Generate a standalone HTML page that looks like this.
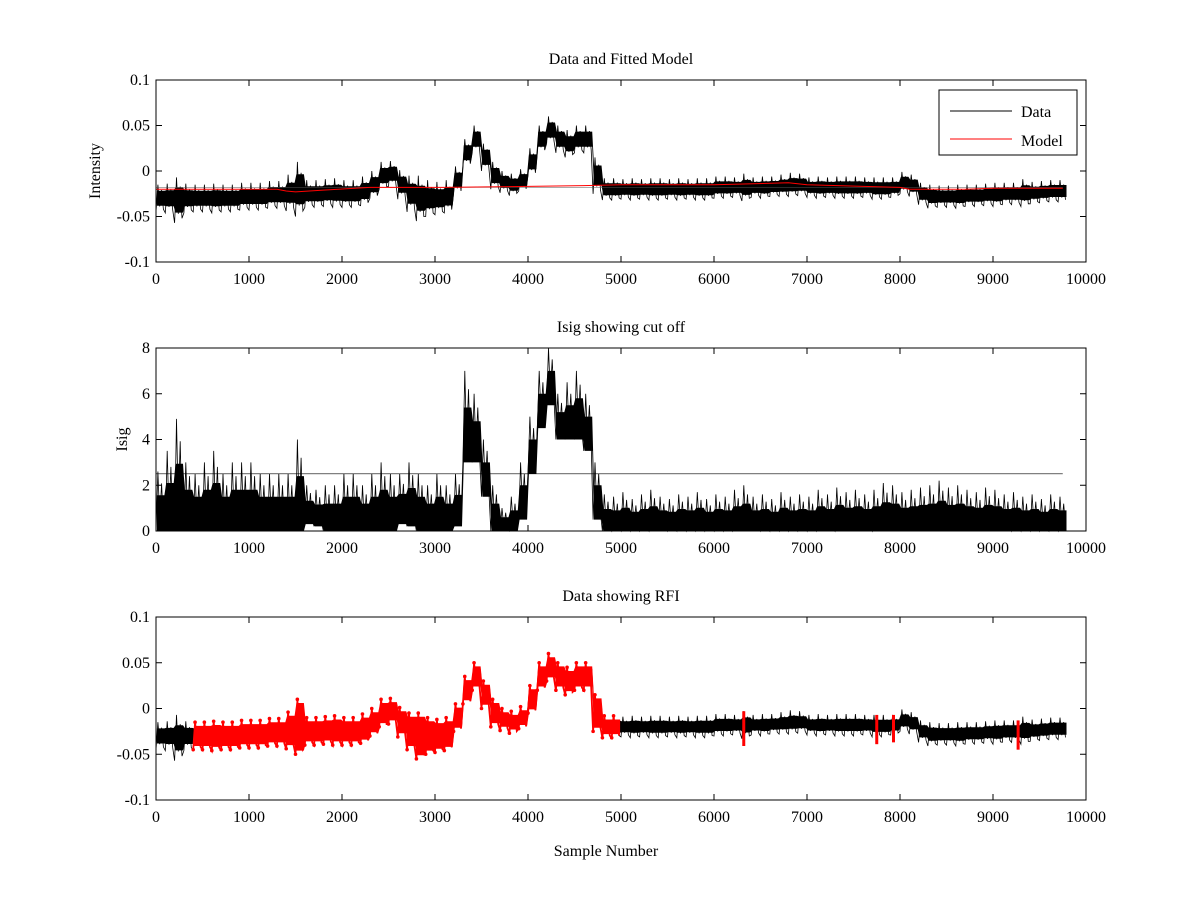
<!DOCTYPE html>
<html><head><meta charset="utf-8">
<style>
html,body{margin:0;padding:0;background:#fff;}
svg{display:block;font-family:"Liberation Serif",serif;}
text{font-size:16px;fill:#000;}
</style></head>
<body>
<svg id="chart" width="1200" height="900" viewBox="0 0 1200 900" xmlns="http://www.w3.org/2000/svg">
<rect width="1200" height="900" fill="#fff"/>
</svg>
<script>
// ---- data (bins of 100 samples, intensity in units of 0.01) ----
const binStart = 0, binSize = 100;
const dataCenter = [-3,-3,-3.2,-3,-3,-3,-3,-3,-3,-2.8,-2.8,-2.8,-2.6,-2.6,-2.4,-2,-2.5,-2.5,-2.4,-2.4,-2.5,-2.5,-2.2,-1.5,-0.5,-0.3,-1.5,-2.5,-3,-3,-3,-2.8,-1,2,3.5,1.5,-0.5,-1.2,-1.5,-1,1,3.5,4.5,3.5,3,3.5,3.5,-0.5,-2,-2,-2,-2,-2,-2,-2,-2,-2,-2,-2,-2,-1.8,-1.8,-1.8,-1.8,-1.8,-1.8,-1.7,-1.6,-1.5,-1.5,-1.8,-1.8,-1.8,-1.8,-1.8,-1.8,-1.8,-1.9,-1.9,-1.8,-1.3,-1.6,-2.5,-2.8,-2.8,-2.8,-2.8,-2.7,-2.7,-2.6,-2.6,-2.5,-2.5,-2.4,-2.4,-2.3,-2.2,-2.2];
const dataSpread = [1.5,1.6,2.5,1.6,1.5,1.5,1.6,1.5,1.5,1.5,1.5,1.5,1.5,1.5,2,3,1.5,1.5,1.5,1.6,1.5,1.5,1.6,1.5,1.5,1.4,1.6,2,2.5,2,1.8,1.8,1.5,1.5,1.5,1.5,1.5,1.2,1.2,1.2,1.5,1.5,1.5,1.5,1.5,1.5,1.5,2,1.2,1.2,1.1,1.2,1.1,1.2,1.2,1.1,1.2,1.1,1.2,1.2,1.2,1.2,1.1,1.5,1.1,1.2,1.1,1.2,1.3,1.2,1.1,1.2,1.1,1.2,1.2,1.2,1.1,1.2,1.2,1.1,1.2,1.2,1.2,1.3,1.2,1.2,1.3,1.2,1.2,1.2,1.3,1.2,1.2,1.5,1.2,1.2,1.2,1.2];
const modelX = [0,1300,1400,1500,1800,2300,3100,3900,4600,5000,6000,6800,7000,8000,8100,8700,9000,9750];
const modelY = [-2,-2,-2.2,-2.3,-2.1,-1.8,-1.8,-1.7,-1.6,-1.5,-1.5,-1.3,-1.5,-1.8,-2,-2,-1.9,-1.9];
const isigHigh = [2.6,3.5,4.9,3,2.5,3,3.5,2.5,3,3,3,2.5,2.5,2.5,2.5,4,2,1.8,2,2,2.5,2.5,2,2.5,3,2.5,2.5,3,2.5,2,2.5,2,2.5,7,6,4,2,1,1.5,3,5,7,8,6,6.5,7,6,3,1.6,1.5,1.7,1.4,1.6,1.8,1.5,1.4,1.6,1.5,1.7,1.4,1.6,1.5,1.8,2,1.5,1.6,1.4,1.7,1.5,1.6,1.5,1.8,1.6,1.9,1.7,1.8,1.6,1.8,2.1,2,1.7,1.8,1.9,2,2.2,1.9,2,1.8,1.7,1.9,1.8,1.6,1.7,1.5,1.6,1.4,1.6,1.5];
const isigLow = [0,0,0,0,0,0,0,0,0,0,0,0,0,0,0,0,0.3,0.2,0,0,0,0,0,0,0,0,0.3,0.2,0,0,0,0,0.2,3,3,1.5,0,0,0,0.5,2.5,4.5,5.5,4,4,4,3.5,0.5,0,0,0,0,0,0,0,0,0,0,0,0,0,0,0,0,0,0,0,0,0,0,0,0,0,0,0,0,0,0,0,0,0,0,0,0,0,0,0,0,0,0,0,0,0,0,0,0,0,0];
const threshold = 2.5;
const rfiRange = [450, 4950];
const rfiSpikes = [6320, 7750, 7930, 9270];
const xTicks = [0,1000,2000,3000,4000,5000,6000,7000,8000,9000,10000];
const yTicksI = [-0.1,-0.05,0,0.05,0.1];
const yTickLabelsI = ["-0.1","-0.05","0","0.05","0.1"];
const yTicksS = [0,2,4,6,8];

// ---- layout ----
const svg = document.getElementById('chart');
const NS = 'http://www.w3.org/2000/svg';
const L = 156, R = 1086;
const panels = [{top:80,bot:262,min:-0.1,max:0.1},{top:348,bot:531,min:0,max:8},{top:617,bot:800,min:-0.1,max:0.1}];
function xs(v){return L + v/10000*(R-L);}
function ys(p,v){return p.bot - (v-p.min)/(p.max-p.min)*(p.bot-p.top);}
function mk(tag, attrs, parent){const e=document.createElementNS(NS,tag);for(const k in attrs)e.setAttribute(k,attrs[k]);(parent||svg).appendChild(e);return e;}

function zigzag(p, lowF, highF, i0, i1){
  let pts=[];
  for(let i=i0;i<i1;i++){
    const x0=binStart+i*binSize;
    const l=lowF(i), h=highF(i);
    pts.push(xs(x0).toFixed(1)+','+ys(p,l).toFixed(1));
    pts.push(xs(x0+binSize*0.2).toFixed(1)+','+ys(p,h).toFixed(1));
    pts.push(xs(x0+binSize*0.4).toFixed(1)+','+ys(p,l+(h-l)*0.2).toFixed(1));
    pts.push(xs(x0+binSize*0.6).toFixed(1)+','+ys(p,l+(h-l)*0.8).toFixed(1));
    pts.push(xs(x0+binSize*0.8).toFixed(1)+','+ys(p,l+(h-l)*0.1).toFixed(1));
  }
  return pts.join(' ');
}
function band(p, lowF, highF, i0, i1){
  let up=[], dn=[];
  for(let i=i0;i<i1;i++){
    const xa=xs(i*binSize+binSize*0.1), xb=xs(i*binSize+binSize*0.9);
    up.push(xa.toFixed(1)+','+ys(p,highF(i)).toFixed(1), xb.toFixed(1)+','+ys(p,highF(i)).toFixed(1));
    dn.unshift(xb.toFixed(1)+','+ys(p,lowF(i)).toFixed(1), xa.toFixed(1)+','+ys(p,lowF(i)).toFixed(1));
  }
  return up.concat(dn).join(' ');
}
const N = dataCenter.length;
const lo = i => (dataCenter[i]-dataSpread[i])/100;
const hi = i => (dataCenter[i]+dataSpread[i])/100;
const loIn = i => (dataCenter[i]-dataSpread[i]*0.55)/100;
const hiIn = i => (dataCenter[i]+dataSpread[i]*0.55)/100;

function axes(p, idx, yt, ytl, title, ylabel){
  const g = mk('g',{});
  
  
  mk('rect',{x:L,y:p.top,width:R-L,height:p.bot-p.top,fill:'none',stroke:'#000','stroke-width':1},g);
  xTicks.forEach(t=>{
    const x=xs(t);
    mk('line',{x1:x,x2:x,y1:p.bot,y2:p.bot-6,stroke:'#000'},g);
    mk('line',{x1:x,x2:x,y1:p.top,y2:p.top+6,stroke:'#000'},g);
    const tx=mk('text',{x:x,y:p.bot+22,'text-anchor':'middle'},g);
    
    
    tx.textContent=t;
  });
  yt.forEach((t,k)=>{
    const y=ys(p,t);
    mk('line',{x1:L,x2:L+6,y1:y,y2:y,stroke:'#000'},g);
    mk('line',{x1:R,x2:R-6,y1:y,y2:y,stroke:'#000'},g);
    const tx=mk('text',{x:L-6,y:y+5,'text-anchor':'end'},g);
    
    
    tx.textContent=ytl[k];
  });
  const tt=mk('text',{x:(L+R)/2,y:p.top-16,'text-anchor':'middle'},g);
  
  
  tt.textContent=title;
  if(ylabel){
    const yl=mk('text',{x:0,y:0,'text-anchor':'middle',transform:'translate('+(idx==0?100:127)+','+((p.top+p.bot)/2)+') rotate(-90)'},g);
    
    
    yl.textContent=ylabel;
  }
}

// Panel 1
const p1=panels[0];
const b1=mk('polygon',{points:band(p1,loIn,hiIn,0,N),fill:'#000'});


const d1=mk('polyline',{points:zigzag(p1,lo,hi,0,N),fill:'none',stroke:'#000','stroke-width':0.8});


mk('line',{x1:xs(0),x2:xs(9750),y1:ys(p1,-0.018),y2:ys(p1,-0.018),stroke:'#555','stroke-width':0.6});
const m1=mk('polyline',{points:modelX.map((v,i)=>xs(v).toFixed(1)+','+ys(p1,modelY[i]/100).toFixed(1)).join(' '),fill:'none',stroke:'#f00','stroke-width':1});


axes(p1,0,yTicksI,yTickLabelsI,'Data and Fitted Model','Intensity');
const lg=mk('g',{});


mk('rect',{x:939,y:90,width:138,height:65,fill:'#fff',stroke:'#000'},lg);
mk('line',{x1:950,x2:1012,y1:111,y2:111,stroke:'#000'},lg);
const lt1=mk('text',{x:1021,y:117},lg);lt1.textContent='Data';


mk('line',{x1:950,x2:1012,y1:139,y2:139,stroke:'#f00'},lg);
const lt2=mk('text',{x:1021,y:146},lg);lt2.textContent='Model';



// Panel 2
const p2=panels[1];
const b2=mk('polygon',{points:band(p2,i=>isigLow[i],i=>isigLow[i]+(isigHigh[i]-isigLow[i])*0.6,0,N),fill:'#000'});


const d2=mk('polyline',{points:zigzag(p2,i=>isigLow[i],i=>isigHigh[i],0,N),fill:'none',stroke:'#000','stroke-width':0.8});


const th=mk('line',{x1:xs(0),x2:xs(9750),y1:ys(p2,threshold),y2:ys(p2,threshold),stroke:'#000','stroke-width':0.6});


axes(p2,1,yTicksS,yTicksS.map(String),'Isig showing cut off','Isig');

// Panel 3
const p3=panels[2];
const b3=mk('polygon',{points:band(p3,loIn,hiIn,0,N),fill:'#000'});


const d3=mk('polyline',{points:zigzag(p3,lo,hi,0,N),fill:'none',stroke:'#000','stroke-width':0.8});


const i0=Math.floor(rfiRange[0]/binSize), i1=Math.ceil(rfiRange[1]/binSize);
const rb=mk('polygon',{points:band(p3,i=>lo(i)+0.004,i=>hi(i)-0.004,i0,i1),fill:'#f00'});


const r3=mk('polyline',{points:zigzag(p3,lo,hi,i0,i1),fill:'none',stroke:'#f00','stroke-width':1.8});


for(let i=i0;i<i1;i++){
  [lo(i),hi(i)].forEach((v,k)=>{
    const c=mk('circle',{cx:xs(i*binSize+k*binSize*0.2),cy:ys(p3,v),r:1.8,fill:'#f00'});
    
    
  });
}
rfiSpikes.forEach(s=>{
  const i=Math.floor(s/binSize);
  const sp=mk('line',{x1:xs(s),x2:xs(s),y1:ys(p3,lo(i)-0.008),y2:ys(p3,hi(i)),stroke:'#f00','stroke-width':3});
  
  
});
axes(p3,2,yTicksI,yTickLabelsI,'Data showing RFI',null);
const xl=mk('text',{x:(L+R)/2-15,y:856,'text-anchor':'middle'});


xl.textContent='Sample Number';
</script>
</body></html>
